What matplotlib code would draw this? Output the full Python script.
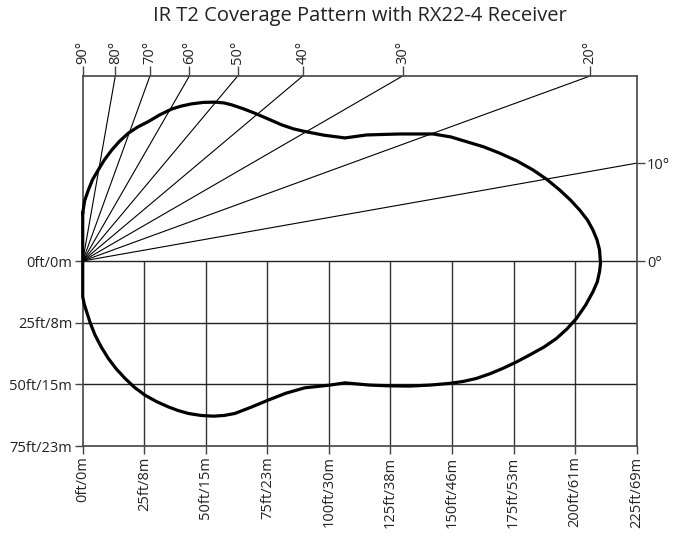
import numpy as np
import matplotlib
matplotlib.use("Agg")
import matplotlib.pyplot as plt

plt.rcParams['font.family'] = ['Open Sans', 'DejaVu Sans']

# coverage outline in feet (x forward, y lateral), traced clockwise from the left edge
pattern_x = [0, 0.8, 2.3, 4.0, 6.3, 8.8, 11.8, 15.0, 18.5, 22.3, 26.6, 31.2, 36.1, 40.0, 44.2,
             49.0, 53.7, 57.3, 60.5, 65.0, 69.9, 75.5, 80.8, 85.5, 90.2, 98.0,
             106.5, 115.3, 128.8, 142.3, 149.5, 155.8, 162.8, 169.4, 176.3, 182.9, 188.6,
             193.7, 198.0, 201.8, 205.0, 207.2, 208.9, 209.9, 210.3, 209.9, 209.0, 207.2,
             204.3, 200.5, 196.7, 192.4, 187.3, 181.5, 176.2, 170.7, 165.4, 159.9, 154.6,
             149.1, 141.0, 132.8, 124.5, 116.6, 106.5, 100.4, 90.2, 82.5, 75.3, 68.3, 61.8,
             57.5, 53.0, 48.0, 42.9, 38.7, 34.7, 30.0, 25.3, 21.0, 17.2, 13.6, 10.4, 7.5,
             5.0, 3.1, 1.6, 0.6, 0, 0]
pattern_y = [19.4, 24.5, 28.8, 33.0, 36.9, 41.0, 45.0, 48.6, 51.8, 54.3, 56.5, 59.2, 61.6,
             62.8, 63.7, 64.3, 64.4, 64.1, 63.3, 61.8, 59.9, 57.5, 55.2, 53.6, 52.5, 51.0,
             49.9, 51.1, 51.5, 51.5, 50.3, 48.4, 46.3, 43.7, 40.6, 36.9, 33.0,
             28.8, 24.8, 20.7, 16.6, 12.6, 8.5, 4.5, -0.9, -4.3, -8.4, -12.5,
             -17.8, -23.3, -27.5, -31.4, -34.9, -38.1, -40.9, -43.5, -45.7, -47.6, -48.8,
             -49.6, -50.3, -50.7, -50.6, -50.3, -49.4, -50.3, -51.4, -53.6, -56.4, -59.3,
             -61.8, -62.6, -62.9, -62.6, -61.8, -60.6, -59.1, -57.0, -54.4, -51.2, -47.6,
             -43.7, -39.5, -34.8, -30.0, -25.2, -20.6, -17.4, -14.5, 19.4]

angles_top = [90, 80, 70, 60, 50, 40, 30, 20]
angles_right = [10, 0]
ray_angles = [80, 70, 60, 50, 40, 30, 20, 10]

x_ticks = [0, 25, 50, 75, 100, 125, 150, 175, 200, 225]
x_labels = ["0ft/0m", "25ft/8m", "50ft/15m", "75ft/23m", "100ft/30m", "125ft/38m",
            "150ft/46m", "175ft/53m", "200ft/61m", "225ft/69m"]
y_ticks = [0, -25, -50, -75]
y_labels = ["0ft/0m", "25ft/8m", "50ft/15m", "75ft/23m"]

X_MAX, Y_MAX, Y_MIN = 225, 75, -75
text_col = "#222222"
frame_col = "#444444"
tick_size = 10.5

fig = plt.figure(figsize=(6.73, 5.39), dpi=100)
ax = fig.add_axes([0.1229, 0.1725, 0.8232, 0.6865])
ax.set_xlim(0, X_MAX)
ax.set_ylim(Y_MIN, Y_MAX)

# lower grid
ax.vlines(x_ticks[1:-1], Y_MIN, 0, color="#333333", lw=1.0, zorder=1)
ax.hlines([0, -25, -50], 0, X_MAX, color="#222222", lw=1.0, zorder=1)

# angle rays from the receiver
for a in ray_angles:
    t = np.radians(a)
    if np.tan(t) * X_MAX > Y_MAX:
        end = (Y_MAX / np.tan(t), Y_MAX)
    else:
        end = (X_MAX, X_MAX * np.tan(t))
    ax.plot([0, end[0]], [0, end[1]], color="black", lw=0.8, zorder=2)

ax.plot(pattern_x, pattern_y, color="black", lw=2.3, solid_joinstyle="round", zorder=3,
        clip_on=False)

for s in ax.spines.values():
    s.set_color(frame_col)
    s.set_linewidth(1.2)

ax.set_xticks(x_ticks, x_labels, rotation=90)
ax.set_yticks(y_ticks, y_labels)
ax.tick_params(axis="both", length=6, width=1.0, color=frame_col, labelcolor=text_col,
               labelsize=tick_size, pad=1.5)

top = ax.secondary_xaxis("top")
top.set_xticks([Y_MAX / np.tan(np.radians(a)) if a != 90 else 0 for a in angles_top],
               [f"{a}°" for a in angles_top], rotation=90)
top.tick_params(length=7, width=1.0, color=frame_col, labelcolor=text_col,
                labelsize=tick_size, pad=1.5)
top.spines["top"].set_visible(False)

right = ax.secondary_yaxis("right")
right.set_yticks([X_MAX * np.tan(np.radians(a)) for a in angles_right],
                 [f"{a}°" for a in angles_right])
right.tick_params(length=6, width=1.0, color=frame_col, labelcolor=text_col,
                  labelsize=tick_size, pad=1.5)
right.spines["right"].set_visible(False)

fig.text(0.5345, 0.961, "IR T2 Coverage Pattern with RX22-4 Receiver", ha="center",
         va="baseline", fontsize=14.5, color=text_col)

fig.savefig("out.png", dpi=100)
